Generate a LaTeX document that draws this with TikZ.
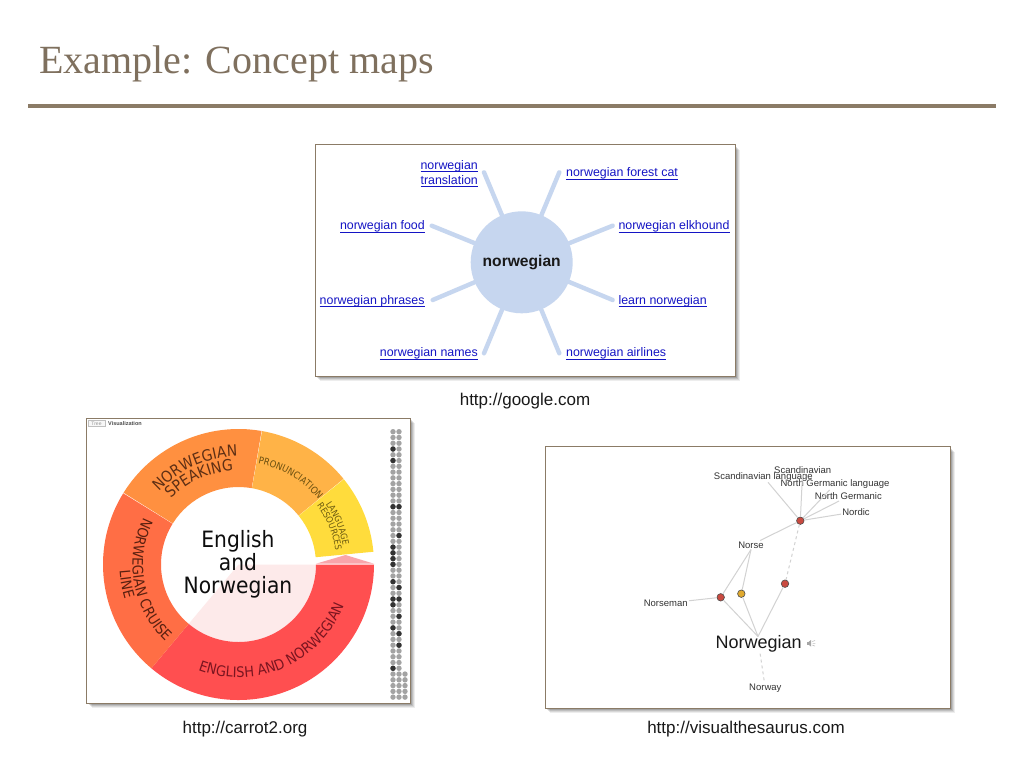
\documentclass[tikz,border=0pt]{standalone}
\usepackage{fontspec}
\setmainfont{Liberation Sans}
\setsansfont{DejaVu Sans Condensed}
\newfontfamily\titlefont{Liberation Serif}
\usetikzlibrary{decorations.text}
\definecolor{rulebrown}{HTML}{8B7B66}
\definecolor{titlebrown}{HTML}{7F705E}
\definecolor{spoke}{HTML}{C6D6EF}
\definecolor{linkblue}{HTML}{1414C4}
\definecolor{edgegrey}{HTML}{D2D2D2}
\definecolor{nodered}{HTML}{C94A40}
\definecolor{nodeyellow}{HTML}{E0A92E}
\definecolor{wedgepink}{HTML}{FDEAEA}
\definecolor{segred}{HTML}{FF4F50}
\definecolor{segcruise}{HTML}{FF6E45}
\definecolor{segspeak}{HTML}{FF9040}
\definecolor{segpron}{HTML}{FFB347}
\definecolor{seglang}{HTML}{FFDC3C}
\definecolor{trianglepink}{HTML}{F9A5AA}
\newcommand{\fs}[1]{\fontsize{#1}{#1}\selectfont}
\newsavebox{\lkbox}
\newcommand{\lk}[1]{\sbox{\lkbox}{#1}\rlap{\rule[-2.6pt]{\wd\lkbox}{.75pt}}\usebox{\lkbox}}
\newcommand{\panel}[4]{%
  \foreach \o/\g in {5/07,4/09,3/11,2/14}{\fill[black,opacity=.\g] (#1+\o,-#2-\o) rectangle (#3+\o,-#4-\o);}
  \draw[rulebrown,line width=.9pt,fill=white] (#1,-#2) rectangle (#3,-#4);}
\newcommand{\seg}[3]{\fill[#3] (#1:77.5) arc (#1:#2:77.5) -- (#2:135.5) arc (#2:#1:135.5) -- cycle;}
\newcommand{\curved}[6]{\path[decorate,decoration={text along path,text align=center,text={|\sffamily\fs{#1}\color[HTML]{#2}|#3}}] (#5:#4) arc (#5:#6:#4);}
\tikzset{
  link/.style={font=\fs{12.4},text=linkblue,inner sep=0pt},
  spokeline/.style={spoke,line width=4.4pt,line cap=round},
  caption/.style={font=\fs{17},text=black!90,inner sep=1pt},
  thlabel/.style={font=\fs{9.5},text=black!80,inner sep=1pt},
  dot/.style={circle,draw=black!70,line width=.6pt,minimum size=7.5pt,inner sep=0pt},
  thedge/.style={edgegrey,line width=1pt},
  thdash/.style={thedge,dashed}
}
\begin{document}
\begin{tikzpicture}[x=1pt,y=1pt]
\useasboundingbox[fill=white] (0,0) rectangle (1024,-768);
% title
\node[anchor=base west,inner sep=0,font=\titlefont\fs{40},text=titlebrown] (title) at (39,-73) {Example: Concept maps};
\fill[rulebrown] (28,-103.5) rectangle (996,-107.5);
% google panel
\panel{315}{144.7}{735}{376}
\node[circle,fill=spoke,minimum size=102pt,inner sep=0pt,font=\bfseries\fs{15.6},text=black!90] (hub) at (521.7,-262.3) {norwegian};
\coordinate (s1) at (484,-172.3);
\coordinate (s2) at (559.3,-172.3);
\coordinate (s3) at (612.7,-225.7);
\coordinate (s4) at (612.7,-300);
\coordinate (s5) at (559.3,-353.3);
\coordinate (s6) at (484,-353.3);
\coordinate (s7) at (432.7,-300);
\coordinate (s8) at (431.7,-225.7);
\foreach \s in {s1,s2,s3,s4,s5,s6,s7,s8}{\draw[spokeline] (hub) -- (\s);}
\node[link,anchor=base east] (l1a) at (478,-169.3) {\lk{norwegian}};
\node[link,anchor=base east] (l1b) at (478,-184) {\lk{translation}};
\node[link,anchor=base west] (l2) at (566,-176.7) {\lk{norwegian forest cat}};
\node[link,anchor=base west] (l3) at (618.3,-229.7) {\lk{norwegian elkhound}};
\node[link,anchor=base west] (l4) at (618.3,-304) {\lk{learn norwegian}};
\node[link,anchor=base west] (l5) at (566,-356.7) {\lk{norwegian airlines}};
\node[link,anchor=base east] (l6) at (478,-356.7) {\lk{norwegian names}};
\node[link,anchor=base east] (l7) at (424.7,-304) {\lk{norwegian phrases}};
\node[link,anchor=base east] (l8) at (425,-229.7) {\lk{norwegian food}};
\node[caption] (c1) at (525,-401) {http://google.com};
% carrot panel
\panel{86.7}{418}{410}{703.3}
\draw[black!25,line width=.5pt,fill=black!3] (88,-420.7) rectangle (105,-426.7);
\node[font=\fs{5},text=black!40,inner sep=0] (tree) at (96.5,-423.7) {Tree};
\node[font=\bfseries\fs{5.5},text=black!70,inner sep=0,anchor=west] (vis) at (108,-423.5) {Visualization};
\begin{scope}[shift={(238.5,-564.5)}]
  \fill[wedgepink] (0:77.5) arc (0:-130:77.5) -- (0,0) -- cycle;
  \seg{0}{-130}{segred}
  \seg{230}{148.3}{segcruise}
  \seg{148}{80.2}{segspeak}
  \seg{80}{39.2}{segpron}
  \seg{39}{5.4}{seglang}
  \fill[trianglepink] (77.5,.8) -- (107,9.5) -- (135.5,.8) -- cycle;
  \curved{15.5}{5E2F14}{NORWEGIAN}{108}{152}{76}
  \curved{15.5}{5E2F14}{SPEAKING}{94}{152}{77}
  \curved{14.5}{5A2010}{NORWEGIAN CRUISE}{106}{140}{240}
  \curved{14.5}{5A2010}{LINE}{119}{163}{217}
  \curved{14.5}{7A1520}{ENGLISH AND NORWEGIAN}{113}{225}{363}
  \curved{9.5}{6B5010}{PRONUNCIATION}{103}{88}{30}
  \curved{9}{6B5A10}{LANGUAGE}{106}{55}{-10}
  \curved{9}{6B5A10}{RESOURCES}{98}{55}{-10}
\end{scope}
\node[font=\sffamily\fs{22.5},align=center,inner sep=0,text=black!95] (center) at (238,-564) {English\\[.5pt]and\\[.5pt]Norwegian};
\foreach \i in {0,...,46}{
  \fill[black!36] (393,-431.7-5.77*\i) circle (2.7);
  \fill[black!36] (399,-431.7-5.77*\i) circle (2.7);
}
\foreach \i in {3,5,13,20,21,22,23,26,29,30,34,41}{\fill[black!80] (393,-431.7-5.77*\i) circle (2.7);}
\foreach \i in {13,18,27,29,32,35,37}{\fill[black!80] (399,-431.7-5.77*\i) circle (2.7);}
\foreach \i in {42,...,46}{\fill[black!36] (405,-431.7-5.77*\i) circle (2.7);}
\node[caption] (c2) at (245,-729) {http://carrot2.org};
% thesaurus panel
\panel{545}{446.5}{950}{708}
\node[dot,fill=nodered] (top) at (800.3,-520.7) {};
\node[dot,fill=nodered] (mid) at (785,-583.7) {};
\node[dot,fill=nodeyellow] (yel) at (741.3,-593.7) {};
\node[dot,fill=nodered] (lef) at (720.7,-597.3) {};
\node[thlabel] (sc) at (802.7,-469.7) {Scandinavian};
\node[thlabel] (scl) at (763.3,-476.7) {Scandinavian language};
\node[thlabel] (ngl) at (835,-484.3) {North Germanic language};
\node[thlabel] (ng) at (848.3,-496.3) {North Germanic};
\node[thlabel] (nd) at (856,-511.7) {Nordic};
\node[thlabel] (nse) at (751,-545) {Norse};
\node[thlabel] (nsm) at (665.7,-603.3) {Norseman};
\node[font=\fs{18},text=black!90,inner sep=1pt] (nw) at (758.7,-644) {Norwegian};
\coordinate (nwtop) at (758,-636.5);
\node[thlabel] (ny) at (765.3,-688.3) {Norway};
\foreach \t in {sc,scl,ngl,ng,nd,nse}{\draw[thedge] (top) -- (\t);}
\draw[thdash] (top) -- (mid);
\draw[thedge] (nse.south) -- (lef);
\draw[thedge] (nse.south) -- (yel);
\draw[thedge] (lef) -- (nsm);
\draw[thedge] (lef) -- (nwtop);
\draw[thedge] (yel) -- (nwtop);
\draw[thedge] (mid) -- (nwtop);
\draw[thdash] (nw) -- (ny);
% speaker icon
\fill[black!35] (806.7,-642) rectangle (808.5,-644.6);
\fill[black!35] (808.5,-642) -- (811,-640) -- (811,-646.6) -- (808.5,-644.6) -- cycle;
\draw[black!25,line width=.6pt] (812.3,-641.5) -- (815,-640.5) (812.5,-643.3) -- (815.3,-643.3) (812.3,-645.1) -- (815,-646.1);
\node[caption] (c3) at (746,-729) {http://visualthesaurus.com};
\end{tikzpicture}
\end{document}
